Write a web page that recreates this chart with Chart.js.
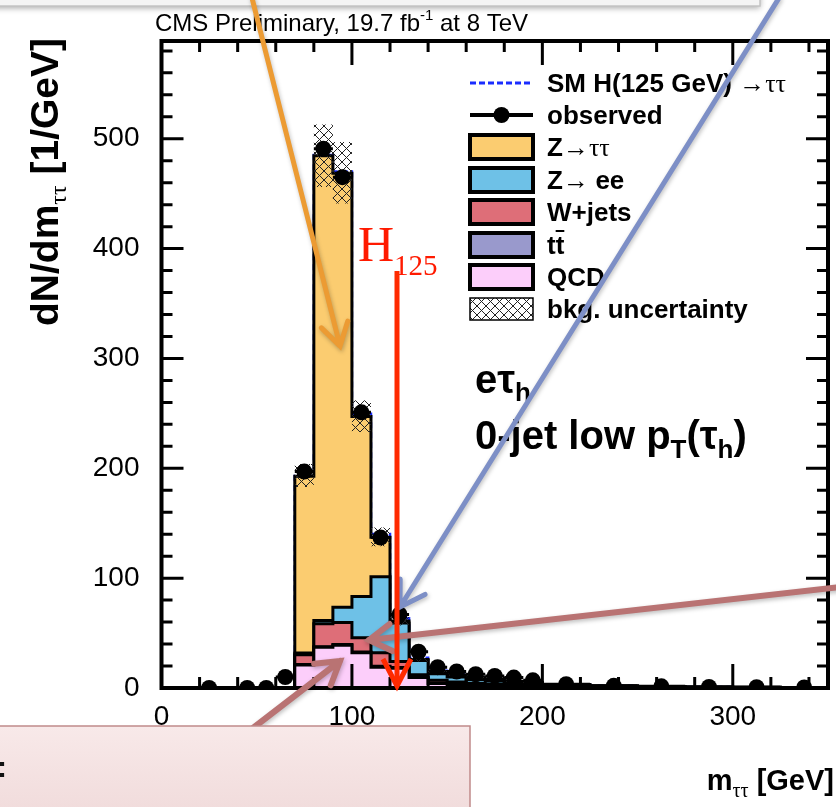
<!DOCTYPE html>
<html>
<head>
<meta charset="utf-8">
<script src="https://cdn.jsdelivr.net/npm/chart.js@4.4.1/dist/chart.umd.min.js"></script>
<style>
  html, body { margin: 0; padding: 0; background: #fff; }
  #wrap { position: relative; width: 836px; height: 807px; overflow: hidden; }
</style>
</head>
<body>
<div id="wrap"><canvas id="mttChart" width="836" height="807"></canvas></div>
<script>
// m_tautau binning (GeV)
const binEdges = [0, 10, 20, 30, 40, 50, 60, 70, 80, 90, 100, 110, 120, 130, 140, 150, 160, 170, 180, 190, 200, 225, 250, 275, 300, 325, 350];
const binCenters = [5, 15, 25, 35, 45, 55, 65, 75, 85, 95, 105, 115, 125, 135, 145, 155, 165, 175, 185, 195, 212.5, 237.5, 262.5, 287.5, 312.5, 337.5];

// backgrounds, dN/dm per bin (stack order bottom -> top)
const qcd   = [0, 0, 0, 0, 0, 0, 0, 21, 37, 39, 32, 19, 18, 9.5, 4, 3, 2.3, 1.8, 1.5, 1.2, 0.8, 0.5, 0.35, 0.25, 0.15, 0.1];
const ttbar = [0, 0, 0, 0, 0, 0, 0, 0.3, 0.5, 0.6, 0.7, 0.7, 0.6, 0.5, 0.5, 0.5, 0.4, 0.4, 0.3, 0.3, 0.2, 0.2, 0.1, 0.1, 0.1, 0.05];
const wjets = [0, 0, 0, 0, 0, 0, 0, 9, 21, 20, 13, 12.5, 5.5, 2, 2.5, 2, 1.6, 1.3, 1, 0.8, 0.5, 0.4, 0.3, 0.2, 0.15, 0.1];
const zee   = [0, 0, 0, 0, 0, 0, 0, 1.5, 3, 14, 37.5, 69, 35, 13, 6, 4.5, 3.5, 2.8, 2.2, 1.7, 1, 0.6, 0.4, 0.25, 0.2, 0.15];
const ztt   = [0, 0, 0, 0, 0, 0, 0, 161, 423, 395, 164, 36, 2, 1, 2, 2, 1.7, 1.4, 1.1, 0.9, 0.6, 0.4, 0.25, 0.15, 0.1, 0.1];
const smH   = [0, 0, 0, 0, 0, 0, 0, 0.3, 0.8, 1.5, 2.5, 3, 2.5, 1.5, 0.8, 0.5, 0.3, 0.2, 0.1, 0.1, 0.05, 0.03, 0.02, 0.01, 0.01, 0.01];

// background uncertainty band edges
const uncLow  = [0, 0, 0, 0, 0, 0, 0, 183, 456, 441, 233, 129, 57, 24, 14, 11.2, 8.8, 7.1, 5.6, 4.5, 2.8, 1.9, 1.3, 0.85, 0.62, 0.44];
const uncHigh = [0, 0, 0, 0, 0, 0, 0, 204, 513, 497, 262, 146, 65, 28, 16, 12.8, 10.2, 8.3, 6.6, 5.3, 3.4, 2.3, 1.5, 1.05, 0.78, 0.56];

// observed data
const observed = [null, null, 0, null, 0, 0, 10, 197, 491, 465, 251, 137, 67, 33, 19, 15, 12.5, 11, 9.5, 7, 3.5, 2, 1.5, 1, 0.7, 0.5];

const xTicks = [0, 100, 200, 300];
const yTicks = [0, 100, 200, 300, 400, 500];

const SANS = '"Liberation Sans", Arial, Helvetica, sans-serif';
const NARROW = '"Liberation Sans Narrow", "Arial Narrow", "Liberation Sans", sans-serif';
const SERIF = '"Liberation Serif", "Times New Roman", serif';

const colZtt = '#FBCC70';
const colZee = '#6EC1E7';
const colW = '#DE6E78';
const colTT = '#9999CC';
const colQCD = '#FCCEFA';

function histPoints(vals) {
  return binEdges.map((e, i) => ({ x: e, y: vals[Math.min(i, vals.length - 1)] }));
}

function makeHatch() {
  const c = document.createElement('canvas');
  c.width = 9; c.height = 9;
  const g = c.getContext('2d');
  g.strokeStyle = '#222';
  g.lineWidth = 1;
  g.beginPath();
  g.moveTo(0, 0); g.lineTo(9, 9);
  g.moveTo(9, 0); g.lineTo(0, 9);
  g.stroke();
  return g.createPattern(c, 'repeat');
}
const hatch = makeHatch();

function layer(label, vals, color, fill) {
  return {
    label, data: histPoints(vals), stack: 'bkg', stepped: true, fill,
    backgroundColor: color, borderColor: '#000', borderWidth: 3,
    borderJoinStyle: 'miter', pointRadius: 0, order: 1
  };
}

const datasets = [
  layer('QCD', qcd, colQCD, 'origin'),
  layer('tt', ttbar, colTT, '-1'),
  layer('W+jets', wjets, colW, '-1'),
  layer('Z→ ee', zee, colZee, '-1'),
  layer('Z→ττ', ztt, colZtt, '-1'),
  {
    label: 'SM H(125 GeV) →ττ', data: histPoints(smH), stack: 'bkg', stepped: true, fill: false,
    borderColor: '#1a2cff', borderWidth: 2.5, borderDash: [6, 4], pointRadius: 0, order: 2
  },
  {
    label: 'uncLow', data: histPoints(uncLow), stack: 'uLo', stepped: true, fill: false,
    borderColor: 'rgba(0,0,0,0)', borderWidth: 1, pointRadius: 0, order: 0
  },
  {
    label: 'bkg. uncertainty', data: histPoints(uncHigh), stack: 'uHi', stepped: true, fill: '-1',
    backgroundColor: hatch, borderColor: 'rgba(0,0,0,0)', borderWidth: 1, pointRadius: 0, order: 0
  },
  {
    label: 'observed',
    data: binCenters.map((c, i) => ({ x: c, y: observed[i] })),
    stack: 'obs', showLine: false, pointRadius: 8, pointHoverRadius: 8,
    pointBackgroundColor: '#000', pointBorderColor: '#000', pointBorderWidth: 0, order: -1
  }
];
const OBS_INDEX = datasets.length - 1;

// text with sub/superscripts: parts = [text, font, dy]
function drawParts(ctx, parts, x, y, align) {
  let total = 0;
  parts.forEach(p => { ctx.font = p[1]; total += ctx.measureText(p[0]).width; });
  let cx = align === 'right' ? x - total : x;
  parts.forEach(p => {
    ctx.font = p[1];
    ctx.fillText(p[0], cx, y + (p[2] || 0));
    cx += ctx.measureText(p[0]).width;
  });
  return total;
}

// horizontal / vertical error bars of data points
const errorBars = {
  id: 'errorBars',
  beforeDatasetDraw(chart, args) {
    if (args.index !== OBS_INDEX) return;
    const { ctx, scales: { x, y } } = chart;
    ctx.save();
    ctx.strokeStyle = '#000';
    ctx.lineWidth = 3;
    observed.forEach((v, i) => {
      if (v === null) return;
      const w = binEdges[i + 1] - binEdges[i];
      const py = y.getPixelForValue(v);
      ctx.beginPath();
      ctx.moveTo(x.getPixelForValue(binEdges[i]), py);
      ctx.lineTo(x.getPixelForValue(binEdges[i + 1]), py);
      const e = Math.sqrt(v / w);
      ctx.moveTo(x.getPixelForValue(binCenters[i]), y.getPixelForValue(v - e));
      ctx.lineTo(x.getPixelForValue(binCenters[i]), y.getPixelForValue(v + e));
      ctx.stroke();
    });
    ctx.restore();
  }
};

// ROOT-like frame with inward ticks on all four sides
const frameTicks = {
  id: 'frameTicks',
  afterDatasetsDraw(chart) {
    const { ctx, chartArea: a, scales: { x, y } } = chart;
    ctx.save();
    ctx.strokeStyle = '#000';
    ctx.lineWidth = 3;
    ctx.beginPath();
    for (let v = 0; v <= x.max; v += 20) {
      const px = x.getPixelForValue(v);
      const len = v % 100 === 0 ? 24 : 11;
      ctx.moveTo(px, a.bottom); ctx.lineTo(px, a.bottom - len);
      ctx.moveTo(px, a.top); ctx.lineTo(px, a.top + len);
    }
    for (let v = 0; v <= y.max; v += 20) {
      const py = y.getPixelForValue(v);
      const len = v % 100 === 0 ? 22 : 11;
      ctx.moveTo(a.left, py); ctx.lineTo(a.left + len, py);
      ctx.moveTo(a.right, py); ctx.lineTo(a.right - len, py);
    }
    ctx.stroke();
    ctx.lineWidth = 4;
    ctx.strokeRect(a.left, a.top, a.right - a.left, a.bottom - a.top);
    ctx.restore();
  }
};

// legend inside the frame
const histLegend = {
  id: 'histLegend',
  afterDatasetsDraw(chart) {
    const { ctx } = chart;
    const bx = 470, bw = 63, tx = 547;
    const rows = [83, 115, 147, 180, 212, 245, 277, 309];
    const bold = 'bold 26px ' + SANS;
    ctx.save();
    ctx.fillStyle = '#000';
    ctx.textBaseline = 'alphabetic';
    // SM H dashed
    ctx.strokeStyle = '#1a2cff'; ctx.lineWidth = 3; ctx.setLineDash([6, 3]);
    ctx.beginPath(); ctx.moveTo(bx, rows[0]); ctx.lineTo(bx + bw, rows[0]); ctx.stroke();
    ctx.setLineDash([]);
    drawParts(ctx, [['SM H(125 GeV) ', bold], ['→ττ', '26px ' + SERIF]], tx, rows[0] + 9);
    // observed
    ctx.strokeStyle = '#000'; ctx.lineWidth = 4;
    ctx.beginPath(); ctx.moveTo(bx, rows[1]); ctx.lineTo(bx + bw, rows[1]); ctx.stroke();
    ctx.beginPath(); ctx.arc(bx + bw / 2, rows[1], 8, 0, Math.PI * 2); ctx.fill();
    drawParts(ctx, [['observed', bold]], tx, rows[1] + 9);
    // filled boxes
    const boxes = [
      [colZtt, [['Z', bold], ['→ττ', '26px ' + SERIF]]],
      [colZee, [['Z', bold], ['→ ', '26px ' + SERIF], ['ee', bold]]],
      [colW, [['W+jets', bold]]],
      [colTT, [['tt', bold]]],
      [colQCD, [['QCD', bold]]]
    ];
    boxes.forEach((b, k) => {
      const cy = rows[k + 2];
      ctx.fillStyle = b[0];
      ctx.fillRect(bx, cy - 12, bw, 24);
      ctx.strokeStyle = '#000'; ctx.lineWidth = 4;
      ctx.strokeRect(bx, cy - 12, bw, 24);
      ctx.fillStyle = '#000';
      drawParts(ctx, b[1], tx, cy + 9);
    });
    // overline on second t of tt
    ctx.font = bold;
    const tW = ctx.measureText('t').width;
    ctx.lineWidth = 2;
    ctx.beginPath(); ctx.moveTo(tx + tW, rows[5] - 14); ctx.lineTo(tx + 2 * tW, rows[5] - 14); ctx.stroke();
    // hatched uncertainty
    ctx.fillStyle = hatch;
    ctx.fillRect(bx, rows[7] - 11, bw, 22);
    ctx.strokeStyle = '#000'; ctx.lineWidth = 1.5;
    ctx.strokeRect(bx, rows[7] - 11, bw, 22);
    ctx.fillStyle = '#000';
    drawParts(ctx, [['bkg. uncertainty', bold]], tx, rows[7] + 9);
    ctx.restore();
  }
};

function arrow(ctx, x1, y1, x2, y2, color, width, head) {
  const ang = Math.atan2(y2 - y1, x2 - x1);
  ctx.strokeStyle = color;
  ctx.lineWidth = width;
  ctx.lineCap = 'round';
  ctx.beginPath();
  ctx.moveTo(x1, y1); ctx.lineTo(x2, y2);
  ctx.moveTo(x2 - head * Math.cos(ang - 0.55), y2 - head * Math.sin(ang - 0.55));
  ctx.lineTo(x2, y2);
  ctx.lineTo(x2 - head * Math.cos(ang + 0.55), y2 - head * Math.sin(ang + 0.55));
  ctx.stroke();
}

// titles, labels and the slide annotations on top of the plot
const annotations = {
  id: 'annotations',
  afterDraw(chart) {
    const { ctx } = chart;
    ctx.save();
    ctx.fillStyle = '#000';
    ctx.textBaseline = 'alphabetic';

    // header: condensed face if available, else regular
    ctx.font = '29px ' + NARROW;
    const narrowOk = ctx.measureText('CMS Preliminary, 19.7 fb').width < 300;
    const hf = narrowOk ? '29px ' + NARROW : '24px ' + SANS;
    const hs = narrowOk ? '17px ' + NARROW : '15px ' + SANS;
    drawParts(ctx, [['CMS Preliminary, 19.7 fb', hf], ['-1', hs, -11], [' at 8 TeV', hf]], 155, 31);

    // y title
    ctx.save();
    ctx.translate(58, 38);
    ctx.rotate(-Math.PI / 2);
    drawParts(ctx, [['dN/dm', 'bold 39px ' + SANS], ['ττ', '24px ' + SERIF, 8], [' [1/GeV]', 'bold 39px ' + SANS]], 0, 0, 'right');
    ctx.restore();

    // x title
    drawParts(ctx, [['m', 'bold 29px ' + SANS], ['ττ', '20px ' + SERIF, 7], [' [GeV]', 'bold 29px ' + SANS]], 834, 790, 'right');

    // channel text
    drawParts(ctx, [['eτ', 'bold 40px ' + SANS], ['h', 'bold 26px ' + SANS, 8]], 475, 393);
    drawParts(ctx, [['0-jet low p', 'bold 40px ' + SANS], ['T', 'bold 26px ' + SANS, 9],
      ['(τ', 'bold 40px ' + SANS], ['h', 'bold 26px ' + SANS, 9], [')', 'bold 40px ' + SANS]], 475, 449);

    // slide decorations
    ctx.save();
    ctx.shadowColor = 'rgba(0,0,0,0.35)';
    ctx.shadowBlur = 6;
    ctx.shadowOffsetY = 2;
    ctx.fillStyle = '#f4f4f4';
    ctx.fillRect(-10, -30, 770, 36);
    ctx.restore();
    ctx.strokeStyle = '#c4c4c4'; ctx.lineWidth = 1.5;
    ctx.strokeRect(-10, -30, 770, 36);

    ctx.save();
    ctx.shadowColor = 'rgba(0,0,0,0.25)';
    ctx.shadowBlur = 4;
    ctx.shadowOffsetX = 1;
    ctx.shadowOffsetY = 2;
    arrow(ctx, 252, -2, 340, 346, '#EC9B33', 5, 26);
    arrow(ctx, 779, -2, 400, 607, '#7D8FC6', 5, 28);
    arrow(ctx, 850, 586, 369, 640, '#B97373', 6, 26);
    arrow(ctx, 253, 728, 340, 661, '#B97373', 6, 26);
    ctx.restore();

    // H125 marker
    ctx.fillStyle = '#FF1A00';
    drawParts(ctx, [['H', '50px ' + SERIF], ['125', '29px ' + SERIF, 14]], 358, 261);
    ctx.strokeStyle = '#FF2A00';
    ctx.lineWidth = 5;
    ctx.lineCap = 'butt';
    ctx.beginPath(); ctx.moveTo(397, 271); ctx.lineTo(397, 684); ctx.stroke();
    ctx.lineJoin = 'miter';
    ctx.beginPath(); ctx.moveTo(383, 659); ctx.lineTo(397, 686); ctx.lineTo(411, 659); ctx.stroke();

    // text box at bottom left
    const g = ctx.createLinearGradient(0, 726, 0, 810);
    g.addColorStop(0, '#F8E9E9');
    g.addColorStop(1, '#F1DCDC');
    ctx.fillStyle = g;
    ctx.fillRect(-4, 726, 474, 90);
    ctx.strokeStyle = '#C08A8A'; ctx.lineWidth = 1.5;
    ctx.strokeRect(-4, 726, 474, 90);
    ctx.fillStyle = '#111';
    ctx.font = 'bold 30px ' + SANS;
    ctx.fillText(':', -3, 777);
    ctx.restore();
  }
};

new Chart(document.getElementById('mttChart').getContext('2d'), {
  type: 'line',
  data: { datasets },
  options: {
    responsive: false,
    animation: false,
    devicePixelRatio: 1,
    layout: { padding: { top: 41, right: 2, left: 0, bottom: 0 } },
    plugins: { legend: { display: false }, tooltip: { enabled: false } },
    scales: {
      x: {
        type: 'linear', min: 0, max: 350,
        grid: { display: false, drawTicks: false }, border: { display: false },
        ticks: { color: '#000', font: { family: SANS, size: 28 }, padding: 12, maxRotation: 0 },
        afterBuildTicks: s => { s.ticks = xTicks.map(v => ({ value: v })); },
        afterFit: s => { s.height = 119; }
      },
      y: {
        type: 'linear', stacked: true, min: 0, max: 589,
        grid: { display: false, drawTicks: false }, border: { display: false },
        ticks: { color: '#000', font: { family: SANS, size: 28 }, padding: 22 },
        afterBuildTicks: s => { s.ticks = yTicks.map(v => ({ value: v })); },
        afterFit: s => { s.width = 161.5; }
      }
    }
  },
  plugins: [errorBars, histLegend, frameTicks, annotations]
});
</script>
</body>
</html>
